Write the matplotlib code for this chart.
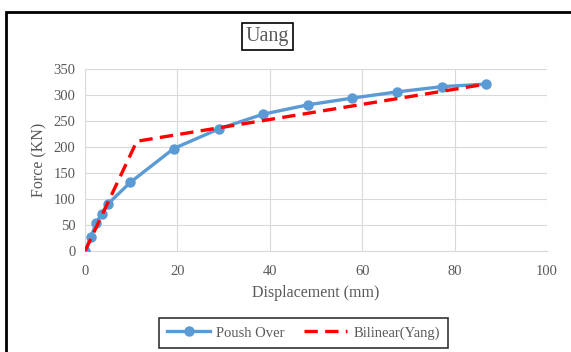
import matplotlib.pyplot as plt
from matplotlib.patches import Rectangle

plt.rcParams['font.family'] = ['Liberation Serif', 'DejaVu Serif']

# Poush Over curve
push_disp = [0, 1.2, 2.4, 3.6, 4.9, 9.8, 19.2, 29.0, 38.5, 48.2, 57.8, 67.6, 77.2, 86.8]
push_force = [0, 26, 53, 72, 90, 132, 197, 235, 263, 281, 294, 306, 316, 321]

# Bilinear (Yang)
bil_disp = [0, 11.2, 86.8]
bil_force = [0, 211, 321]

x_ticks = [0, 20, 40, 60, 80, 100]
y_ticks = [0, 50, 100, 150, 200, 250, 300, 350]

grey = "#595959"

fig = plt.figure(figsize=(5.71, 3.52), dpi=100)
ax = fig.add_axes([0.149, 0.287, 0.809, 0.517])

ax.plot(push_disp, push_force, color="#5B9BD5", lw=2.4, marker="o", ms=6.5,
        label="Poush Over", zorder=3)
ax.plot(bil_disp, bil_force, color="#FF0000", lw=2.4, ls=(0, (4, 2.2)),
        label="Bilinear(Yang)", zorder=4)

ax.set_xlim(0, 100)
ax.set_ylim(0, 350)
ax.set_xticks(x_ticks)
ax.set_yticks(y_ticks)
ax.grid(True, color="#d9d9d9", lw=0.8)
ax.set_axisbelow(True)
for s in ["top", "right", "left"]:
    ax.spines[s].set_visible(False)
ax.spines["bottom"].set_color("#d9d9d9")
ax.tick_params(length=0, labelsize=10.5, colors=grey)
ax.tick_params(axis="x", pad=10)
ax.tick_params(axis="y", pad=7)

ax.set_xlabel("Displacement (mm)", fontsize=11.5, color=grey, labelpad=5)
ax.set_ylabel("Force (KN)", fontsize=11.5, color=grey, labelpad=4)

fig.text(0.468, 0.895, "Uang", ha="center", va="center", fontsize=14.5, color=grey,
         bbox=dict(boxstyle="square,pad=0.2", fc="white", ec="black", lw=1.2))

leg = fig.legend(loc="center", bbox_to_anchor=(0.531, 0.054), ncol=2, fontsize=10.5,
                 frameon=True, fancybox=False, edgecolor="black", handlelength=3.0,
                 handletextpad=0.4, columnspacing=1.3, borderpad=0.55)
leg.get_frame().set_linewidth(1.2)
for t in leg.get_texts():
    t.set_color(grey)

# outer chart frame
fig.patches.append(Rectangle((0.0105, -0.05), 1.2, 1.016, transform=fig.transFigure,
                             fill=False, ec="black", lw=2))

fig.savefig("out.png", dpi=100)
